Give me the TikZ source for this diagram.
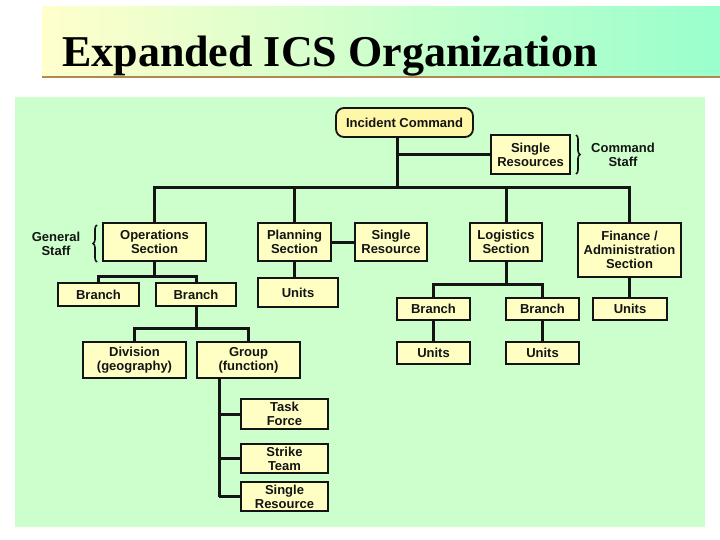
\documentclass[tikz,border=0pt]{standalone}
\usepackage{fontspec}
\newfontfamily\labfont{Liberation Sans}
\newfontfamily\ttlfont{Liberation Serif}
\usetikzlibrary{decorations.pathreplacing}
\definecolor{panel}{HTML}{CCFFCC}
\definecolor{boxfill}{HTML}{FFFFC4}
\definecolor{icfill}{HTML}{FFF7A8}
\definecolor{bandL}{HTML}{FFFFCC}
\definecolor{bandR}{HTML}{99FFCC}
\definecolor{rule}{HTML}{B08850}
\definecolor{ink}{HTML}{141414}
\tikzset{
  box/.style={draw=ink, line width=1.8pt, fill=boxfill, inner sep=0pt, align=center,
    font=\labfont\bfseries\fontsize{13}{14}\selectfont, text=ink},
  lbl/.style={inner sep=0pt, align=center, font=\labfont\bfseries\fontsize{13}{14}\selectfont, text=ink},
  conn/.style={draw=ink, line width=3pt},
  brc/.style={draw=ink, line width=1.6pt, decorate, decoration={brace, amplitude=4pt}},
}
\begin{document}
\begin{tikzpicture}[x=1pt, y=-1pt]
\useasboundingbox (0,0) rectangle (720,540);
\fill[white] (0,0) rectangle (720,540);
% title band
\shade[left color=bandL, right color=bandR] (42,7) rectangle (720,77);
\draw[rule, line width=2pt] (42,77.5) -- (720,77.5);
\node[anchor=base west, inner sep=0pt, font=\ttlfont\bfseries\fontsize{44}{48}\selectfont] (title) at (62,67) {Expanded ICS Organization};
% panel
\fill[panel] (15,97) rectangle (705,527);

% nodes
\node[box, fill=icfill, rounded corners=8pt, minimum width=137pt, minimum height=29pt] (ic) at (404.5,122.5) {Incident Command};
\node[box, minimum width=79pt, minimum height=39pt] (sr) at (530.5,154.5) {Single\\Resources};
\node[box, minimum width=103pt, minimum height=38pt] (ops) at (154.5,242) {Operations\\Section};
\node[box, minimum width=73pt, minimum height=38pt] (plan) at (294.5,242) {Planning\\Section};
\node[box, minimum width=72pt, minimum height=38pt] (sres) at (391,242) {Single\\Resource};
\node[box, minimum width=72pt, minimum height=38pt] (log) at (506,242) {Logistics\\Section};
\node[box, minimum width=103pt, minimum height=54pt] (fin) at (629.5,250) {Finance /\\Administration\\Section};
\node[box, minimum width=81pt, minimum height=23pt] (br1) at (98.5,294.5) {Branch};
\node[box, minimum width=80pt, minimum height=23pt] (br2) at (196,294.5) {Branch};
\node[box, minimum width=80pt, minimum height=29pt] (pu) at (298,292.5) {Units};
\node[box, minimum width=103pt, minimum height=36pt] (div) at (134.5,360) {Division\\(geography)};
\node[box, minimum width=103pt, minimum height=36pt] (grp) at (248.5,360) {Group\\(function)};
\node[box, minimum width=87pt, minimum height=30pt] (tf) at (284.5,414) {Task\\Force};
\node[box, minimum width=87pt, minimum height=29pt] (st) at (284.5,458.5) {Strike\\Team};
\node[box, minimum width=87pt, minimum height=29pt] (sr2) at (284.5,496.5) {Single\\Resource};
\node[box, minimum width=73pt, minimum height=22pt] (lb1) at (433.5,309) {Branch};
\node[box, minimum width=73pt, minimum height=22pt] (lb2) at (542.5,309) {Branch};
\node[box, minimum width=74pt, minimum height=22pt] (fu) at (630,309) {Units};
\node[box, minimum width=73pt, minimum height=22pt] (lu1) at (433.5,353) {Units};
\node[box, minimum width=73pt, minimum height=22pt] (lu2) at (542.5,353) {Units};

% labels and braces
\node[lbl] (gs) at (56,244) {General\\Staff};
\node[lbl] (cs) at (623,155) {Command\\Staff};
\draw[brc] (97,262) -- (97,225);
\draw[brc] (576,135) -- (576,174);

% connectors
\coordinate (t) at (397,188);
\coordinate (gv) at (219,0);
\draw[conn] (t |- ic.south) -- (t);
\draw[conn] (t |- sr.west) -- (sr.west);
\draw[conn] (ops.north) -- (ops.north |- t) -| (fin.north);
\draw[conn] (plan.north) -- (plan.north |- t);
\draw[conn] (log.north) -- (log.north |- t);
\draw[conn] (plan.east) -- (sres.west);
\draw[conn] (ops.south) -- ++(0,15) coordinate (ob);
\draw[conn] (br1.north) |- (ob) -| (br2.north);
\draw[conn] (plan.south) -- (plan.south |- pu.north);
\draw[conn] (br2.south) -- ++(0,22) coordinate (gb);
\draw[conn] (div.north) |- (gb) -| (grp.north);
\draw[conn] (gv |- grp.south) -- (gv |- sr2.west);
\draw[conn] (gv |- tf.west) -- (tf.west);
\draw[conn] (gv |- st.west) -- (st.west);
\draw[conn] (gv |- sr2.west) -- (sr2.west);
\draw[conn] (log.south) -- ++(0,23) coordinate (lb);
\draw[conn] (lb1.north) |- (lb) -| (lb2.north);
\draw[conn] (fin.south) -- (fin.south |- fu.north);
\draw[conn] (lb1.south) -- (lu1.north);
\draw[conn] (lb2.south) -- (lu2.north);
\end{tikzpicture}
\end{document}
